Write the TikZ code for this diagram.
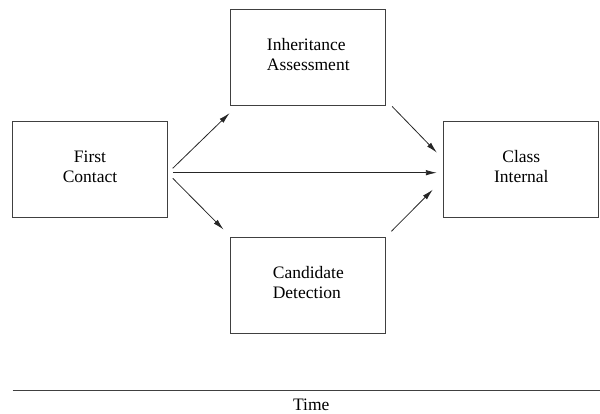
\documentclass[tikz,border=0pt]{standalone}
\usepackage{fontspec}
\setmainfont{Liberation Serif}
\usetikzlibrary{arrows.meta}

\begin{document}
\begin{tikzpicture}[x=1pt,y=1pt,
  phase/.style={draw=black!75,line width=0.9pt,minimum width=155pt,minimum height=96pt,inner sep=0pt,font=\fontsize{17.5}{20}\selectfont},
  flow/.style={draw=black!85,line width=0.8pt,-{Latex[length=11pt,width=5.5pt]}}]
\useasboundingbox (0,0) rectangle (600,414);
% the four phases
\node[phase] (first) at (90,245) {\raisebox{5pt}{\begin{tabular}{@{}c@{}}First\\Contact\end{tabular}}};
\node[phase] (inherit) at (308.3,357) {\raisebox{5pt}{\begin{tabular}{@{}l@{}}Inheritance\\Assessment\end{tabular}}};
\node[phase] (cand) at (308.3,129) {\raisebox{-4pt}{\begin{tabular}{@{}l@{}}Candidate\\Detection\end{tabular}}};
\node[phase] (class) at (521.3,245) {\raisebox{5pt}{\begin{tabular}{@{}c@{}}Class\\Internal\end{tabular}}};
% transitions
\draw[flow] ([xshift=4.8pt,yshift=0.7pt]first.east) -- ([xshift=-0.8pt,yshift=-7.7pt]inherit.south west);
\draw[flow] ([xshift=4.8pt,yshift=-3.7pt]first.east) -- ([xshift=-6.5pt,yshift=-3.7pt]class.west);
\draw[flow] ([xshift=4.8pt,yshift=-9.3pt]first.east) -- ([xshift=-6.8pt,yshift=7pt]cand.north west);
\draw[flow] ([xshift=5.9pt,yshift=-1pt]inherit.south east) -- ([xshift=-6.5pt,yshift=16.4pt]class.west);
\draw[flow] ([xshift=5.2pt,yshift=5.3pt]cand.north east) -- ([xshift=-10.5pt,yshift=-20.6pt]class.west);
% time axis
\coordinate (t0) at (12.7,24);
\coordinate (t1) at (600,24);
\draw[black!75,line width=0.9pt] (t0) -- (t1);
\node[font=\fontsize{17.5}{20}\selectfont] (time) at (311.3,9.5) {Time};
\end{tikzpicture}
\end{document}
